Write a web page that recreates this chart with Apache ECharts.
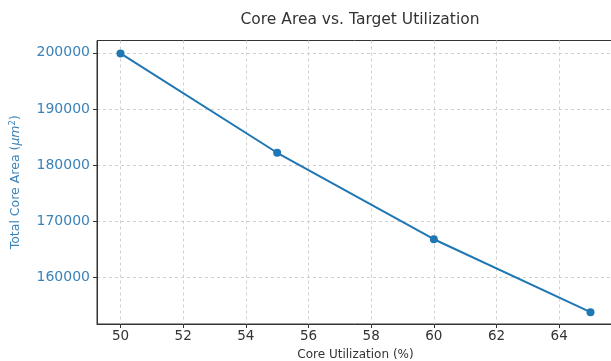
<!DOCTYPE html>
<html>
<head>
<meta charset="utf-8">
<script src="https://cdn.jsdelivr.net/npm/echarts@6/dist/echarts.min.js"></script>
<style>html,body{margin:0;padding:0;background:#fff}#c{width:611px;height:361px}</style>
</head>
<body>
<div id="c"></div>
<script>
const utilization = [50, 55, 60, 65];
const coreArea = [199900, 182200, 166800, 153800];
const xTicks = [50, 52, 54, 56, 58, 60, 62, 64];
const yTicks = [160000, 170000, 180000, 190000, 200000];

const FONT = '"DejaVu Sans", "Noto Sans", sans-serif';
const chart = echarts.init(document.getElementById('c'), null, {renderer: 'canvas'});
chart.setOption({
  animation: false,
  backgroundColor: '#fff',
  title: {
    text: 'Core Area vs. Target Utilization',
    left: 355, top: 7, textAlign: 'center',
    textStyle: {fontFamily: FONT, fontSize: 15.5, fontWeight: 'normal', color: '#333'}
  },
  grid: {left: 97, top: 40.5, right: -3, bottom: 37, show: true, borderColor: '#333', borderWidth: 1,
         containLabel: false, outerBoundsMode: 'none'},
  xAxis: {
    type: 'value', min: 49.25, max: 65.75,
    name: 'Core Utilization (%)', nameLocation: 'middle', nameGap: 25,
    nameTextStyle: {fontFamily: FONT, fontSize: 12, color: '#333'},
    axisLine: {show: true, onZero: false, lineStyle: {color: '#333', width: 1}},
    axisTick: {show: true, length: 4, lineStyle: {color: '#333'}, customValues: xTicks},
    axisLabel: {fontFamily: FONT, fontSize: 13.5, color: '#333', margin: 5, customValues: xTicks},
    splitLine: {show: true, lineStyle: {color: '#d0d0d0', type: [3, 3], width: 1}}
  },
  yAxis: {
    type: 'value', min: 151700, max: 202200,
    name: '{n|Total Core Area (}{i|μm}{s|2}{n|)}', nameLocation: 'middle', nameGap: 74, nameRotate: 90,
    nameTextStyle: {
      rich: {
        n: {fontFamily: FONT, fontSize: 12.5, color: '#3a82b8'},
        i: {fontFamily: FONT, fontSize: 12.5, color: '#3a82b8', fontStyle: 'italic'},
        s: {fontFamily: FONT, fontSize: 8.5, color: '#3a82b8', verticalAlign: 'top', padding: [0, 0, 6, 0]}
      }
    },
    axisLine: {show: true, onZero: false, lineStyle: {color: '#333', width: 1}},
    axisTick: {show: true, length: 4, lineStyle: {color: '#333'}, customValues: yTicks},
    axisLabel: {fontFamily: FONT, fontSize: 14, color: '#3a82b8', margin: 7, customValues: yTicks,
                formatter: v => String(Math.round(v))},
    splitLine: {show: true, lineStyle: {color: '#d0d0d0', type: [3, 3], width: 1}}
  },
  series: [{
    type: 'line',
    data: utilization.map((u, i) => [u, coreArea[i]]),
    symbol: 'circle', symbolSize: 8,
    lineStyle: {color: '#1f77b4', width: 2},
    itemStyle: {color: '#1f77b4'}
  }]
});
</script>
</body>
</html>
